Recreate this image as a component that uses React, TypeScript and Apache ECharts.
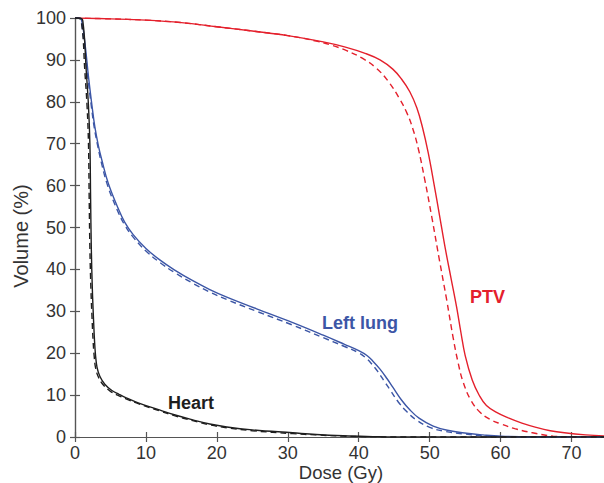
import React, { useEffect, useRef } from "react";
import * as echarts from "echarts";

// Dose (Gy) / Volume (%) pairs
const ptvPlanned: [number, number][] = [
  [0, 100], [5, 99.8], [10, 99.5], [15, 98.9], [20, 97.9], [25, 96.9], [30, 95.8], [35, 94.3], [38, 93.1],
  [41, 91.5], [43, 90], [44.8, 87.8], [46, 85.5], [47.2, 82.4], [48.2, 78.5], [49, 73.8], [49.8, 67.8],
  [50.6, 60.5], [51.4, 52.8], [52.2, 45], [53, 38], [53.8, 31], [54.4, 25], [55, 19.5], [56, 13.6],
  [57, 9.9], [58, 7.5], [59.5, 5.8], [61, 4.6], [63, 3.3], [65, 2.3], [67, 1.5], [69, 1], [72, 0.5], [75, 0.2],
];
const ptvCompared: [number, number][] = [
  [0, 100], [5, 99.8], [10, 99.5], [15, 98.9], [20, 97.9], [25, 96.9], [30, 95.8], [34, 94.5],
  [36, 93.6], [38.3, 92.2], [40.5, 90.4], [42.5, 88], [44.2, 84.8], [45.8, 80.6], [46.8, 77.3],
  [47.6, 73.7], [48.4, 68.8], [49.3, 61.5], [50.3, 52.5], [51.4, 42], [52.4, 32.7], [53.3, 23.8],
  [54, 17.8], [54.7, 13.2], [55.8, 8.8], [57.1, 5.9], [58.5, 4.2], [59.9, 3.2], [62, 2], [64.5, 1],
  [67.4, 0.2], [70, 0], [75, 0],
];
const lungPlanned: [number, number][] = [
  [0, 100], [0.5, 100], [0.9, 99.6], [1.4, 94], [1.9, 86], [2.4, 79], [2.8, 74], [3.3, 69.5],
  [3.8, 66], [4.7, 60.5], [6.1, 54.5], [7, 51.3], [8.2, 48.3], [10, 45], [12, 42.2], [14, 39.9],
  [16.6, 37.3], [19, 35.2], [21.4, 33.4], [25.6, 30.6], [30.7, 27.3], [35, 24.3], [38, 22.1],
  [40, 20.6], [41.2, 19.4], [42, 18.1], [43, 16.2], [44, 13.9], [44.8, 11.9], [46, 8.9], [47.2, 6.5],
  [48.5, 4.5], [50.5, 2.6], [52.5, 1.6], [55.2, 0.9], [57.5, 0.5], [60, 0.2], [65, 0.05], [75, 0],
];
const lungCompared: [number, number][] = [
  [0, 100], [0.5, 100], [0.8, 99.6], [1.3, 94], [1.8, 86], [2.3, 79], [2.7, 74], [3.2, 69.5],
  [3.7, 65.6], [4.6, 60], [6, 54], [7, 50.6], [8.2, 47.7], [10, 44.4], [12, 41.6], [14, 39.3],
  [16.6, 36.7], [19, 34.6], [21.4, 32.8], [25.6, 30], [30.7, 26.7], [35, 23.7], [38, 21.6],
  [40, 20.1], [41, 18.9], [41.8, 17.5], [42.7, 15.6], [43.6, 13.3], [44.4, 11.3], [45.6, 8.3],
  [46.8, 6], [48.1, 4.1], [50, 2.3], [52, 1.4], [55, 0.7], [57.5, 0.3], [60, 0.1], [65, 0], [75, 0],
];
const heartPlanned: [number, number][] = [
  [0, 100], [0.6, 100], [1.1, 99.3], [1.6, 87], [1.9, 79], [2.1, 70], [2.2, 57], [2.3, 45],
  [2.45, 35], [2.6, 28.5], [2.75, 23], [2.9, 19.4], [3.1, 16.7], [3.5, 14.5], [4.2, 12.6],
  [5.2, 11.1], [6.2, 10.2], [7.3, 9.3], [9, 8.1], [12, 6.4], [14, 5.3], [16.6, 4.1], [19, 3.1],
  [21.4, 2.4], [25, 1.7], [30.7, 1], [34, 0.6], [37.8, 0.3], [42, 0.1], [45, 0], [75, 0],
];
const heartCompared: [number, number][] = [
  [0, 100], [0.4, 100], [0.9, 99.3], [1.4, 87], [1.7, 79], [1.9, 70], [2.0, 57], [2.1, 45],
  [2.25, 35], [2.4, 28.5], [2.55, 23], [2.7, 19.4], [2.9, 16.5], [3.3, 14.3], [4.0, 12.4],
  [5.0, 10.9], [6.0, 10], [7.2, 9.1], [9, 7.9], [12, 6.2], [14, 5.1], [16.6, 3.9], [19, 2.9],
  [21.4, 2.2], [25, 1.5], [30.7, 0.8], [34, 0.5], [37.8, 0.2], [42, 0.05], [45, 0], [75, 0],
];

const xTicks = [0, 10, 20, 30, 40, 50, 60, 70];
const yTicks = [0, 10, 20, 30, 40, 50, 60, 70, 80, 90, 100];

const RED = "#e4202c";
const BLUE = "#3c56a6";
const BLACK = "#1e1e1e";
const FONT = "Liberation Sans, Arial, Helvetica, sans-serif";

export default function App() {
  const ref = useRef<HTMLDivElement>(null);
  useEffect(() => {
    if (!ref.current) return;
    const chart = echarts.init(ref.current, undefined, { renderer: "svg" });
    const line = (data: [number, number][], color: string, dashed: boolean, z: number) => ({
      type: "line",
      data,
      showSymbol: false,
      smooth: 0.4,
      z,
      lineStyle: { color, width: 1.4, type: dashed ? [6, 4] : "solid" },
    });
    const axisLineStyle = { color: "#555", width: 1.2 };
    chart.setOption({
      animation: false,
      backgroundColor: "#ffffff",
      textStyle: { fontFamily: FONT },
      grid: { left: 75, top: 18, width: 532, height: 419, containLabel: false, outerBoundsMode: "none" },
      xAxis: [
        {
          type: "value",
          min: 0,
          max: 75,
          interval: 10,
          axisLine: { lineStyle: axisLineStyle },
          axisTick: { inside: true, length: 5, lineStyle: axisLineStyle },
          axisLabel: {
            fontSize: 18,
            color: "#333",
            margin: 7,
            showMaxLabel: false,
            fontFamily: FONT,
            formatter: (v: number) => (xTicks.includes(v) ? String(v) : ""),
          },
          splitLine: { show: false },
        },
        {
          type: "value",
          position: "top",
          min: 0,
          max: 75,
          interval: 10,
          axisLine: { show: true, lineStyle: axisLineStyle },
          axisTick: { show: true, inside: true, length: 5, lineStyle: axisLineStyle },
          axisLabel: { show: false },
          splitLine: { show: false },
        },
      ],
      yAxis: [
        {
          type: "value",
          min: 0,
          max: 100,
          interval: 10,
          axisLine: { show: true, lineStyle: axisLineStyle },
          axisTick: { show: true, inside: true, length: 5, lineStyle: axisLineStyle },
          axisLabel: {
            fontSize: 18,
            color: "#333",
            margin: 9,
            fontFamily: FONT,
            formatter: (v: number) => (yTicks.includes(v) ? String(v) : ""),
          },
          splitLine: { show: false },
        },
        {
          type: "value",
          position: "right",
          min: 0,
          max: 100,
          interval: 10,
          axisLine: { show: true, lineStyle: axisLineStyle },
          axisTick: { show: true, inside: true, length: 5, lineStyle: axisLineStyle },
          axisLabel: { show: false },
          splitLine: { show: false },
        },
      ],
      series: [
        line(ptvCompared, RED, true, 2),
        line(ptvPlanned, RED, false, 3),
        line(lungCompared, BLUE, true, 4),
        line(lungPlanned, BLUE, false, 5),
        line(heartCompared, BLACK, true, 6),
        line(heartPlanned, BLACK, false, 7),
      ],
      graphic: [
        {
          type: "text",
          x: 21,
          y: 236,
          rotation: Math.PI / 2,
          style: {
            text: "Volume (%)",
            fill: "#333",
            font: `20px ${FONT}`,
            align: "center",
            verticalAlign: "middle",
          },
        },
        {
          type: "text",
          x: 341,
          y: 482,
          style: {
            text: "Dose (Gy)",
            fill: "#333",
            font: `18.5px ${FONT}`,
            align: "center",
            verticalAlign: "bottom",
          },
        },
        {
          type: "text",
          left: 168,
          top: 394,
          style: { text: "Heart", fill: BLACK, font: `bold 18px ${FONT}` },
        },
        {
          type: "text",
          left: 322,
          top: 314,
          style: { text: "Left lung", fill: BLUE, font: `bold 18px ${FONT}` },
        },
        {
          type: "text",
          left: 470,
          top: 288,
          style: { text: "PTV", fill: RED, font: `bold 18px ${FONT}` },
        },
      ],
    });
    return () => chart.dispose();
  }, []);
  return (
    <div
      ref={ref}
      style={{ position: "fixed", left: 0, top: 0, width: 604, height: 483, background: "#fff" }}
    />
  );
}
